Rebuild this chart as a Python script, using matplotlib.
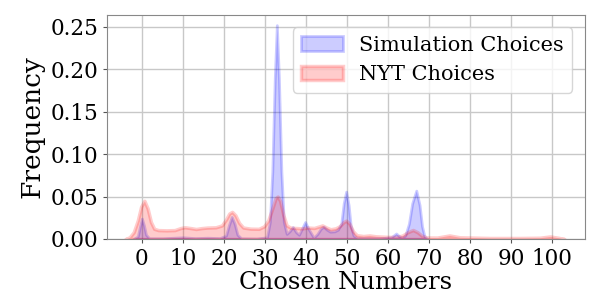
import matplotlib
matplotlib.use("Agg")
import matplotlib.pyplot as plt

# density curves (x = chosen number, y = frequency)
sim_x = [-2.0, -1.0, -0.5, 0.0, 0.5, 1.0, 1.8, 5, 10, 13, 16, 19,
         20.5, 21.2, 21.9, 22.6, 23.3, 24.2, 28, 30.5,
         31.2, 31.8, 32.4, 32.9, 33.4, 34.0, 34.6, 35.3, 36.0, 36.8,
         37.6, 38.3, 39.2, 39.8, 40.6, 41.9, 42.8, 43.6, 44.3, 45.1,
         45.9, 47.0, 47.8, 48.6, 49.2, 49.8, 50.4, 50.9, 51.6, 52.5,
         58, 60.8, 62.0, 62.8, 63.4, 64.2, 65.1, 65.9, 66.9, 67.7,
         68.3, 68.9, 69.6]
sim_y = [0.0, 0.003, 0.014, 0.024, 0.016, 0.005, 0.0008, 0.0008, 0.002,
         0.001, 0.0015, 0.001,
         0.004, 0.016, 0.026, 0.018, 0.005, 0.0008, 0.0005, 0.002,
         0.02, 0.08, 0.19, 0.252, 0.19, 0.08, 0.02, 0.006, 0.009, 0.014,
         0.008, 0.005, 0.014, 0.020, 0.012, 0.0015, 0.006, 0.012, 0.0145,
         0.011,
         0.0086, 0.009, 0.011, 0.018, 0.042, 0.0558, 0.040, 0.016, 0.004,
         0.001,
         0.0008, 0.002, 0.0065, 0.003, 0.0015, 0.004, 0.018, 0.042, 0.057,
         0.040,
         0.015, 0.003, 0.0]

nyt_x = [-4.0, -3.0, -2.0, -1.0, -0.2, 0.6, 1.4, 2.2, 3.0, 4.0, 6, 8,
         9.5, 10.5, 12, 13.2, 14.5, 16, 18, 19.5, 20.5, 21.3, 22.0, 22.8,
         23.7, 24.7, 26.5, 28.5, 29.8, 30.8, 31.8, 32.6, 33.1, 33.7, 34.5,
         35.3, 36.2, 37.4, 39.0, 40.5, 42.0, 43.0, 44.0, 45.0, 46.0, 47.2,
         48.2, 49.2, 49.8, 50.6, 51.5, 52.4, 54, 55.5, 57, 60, 62, 63.5,
         64.8, 66.1, 67.2, 68.2, 69.5, 72, 75, 77.5, 85, 92, 97, 99.5,
         101.5, 103]
nyt_y = [0.0, 0.002, 0.008, 0.022, 0.038, 0.045, 0.036, 0.020, 0.012,
         0.0105, 0.0102, 0.0105,
         0.013, 0.0138, 0.0128, 0.0118, 0.0128, 0.0135, 0.0138, 0.016,
         0.023, 0.030, 0.032, 0.028,
         0.019, 0.0135, 0.0122, 0.012, 0.015, 0.022, 0.036, 0.048, 0.050,
         0.045, 0.028,
         0.016, 0.0135, 0.013, 0.0125, 0.0135, 0.013, 0.0145, 0.016,
         0.0135, 0.0115, 0.0125,
         0.015, 0.020, 0.0216, 0.018, 0.009, 0.0045, 0.0035, 0.0042,
         0.0032, 0.0025, 0.0025, 0.004,
         0.008, 0.0106, 0.008, 0.004, 0.0018, 0.0017, 0.0042, 0.002,
         0.0012, 0.0012, 0.0015, 0.003,
         0.0015, 0.0]

x_ticks = list(range(0, 101, 10))
y_ticks = [0.0, 0.05, 0.10, 0.15, 0.20, 0.25]

plt.rcParams["font.family"] = ["DejaVu Serif"]

fig = plt.figure(figsize=(5.98, 2.99), dpi=100)
ax = fig.add_axes([0.179, 0.2007, 0.799, 0.7493])

ax.fill_between(sim_x, sim_y, color="blue", alpha=0.2, linewidth=2,
                label="Simulation Choices")
ax.fill_between(nyt_x, nyt_y, color="red", alpha=0.2, linewidth=2.5,
                label="NYT Choices")

ax.set_xlim(-8.5, 108)
ax.set_ylim(0, 0.264)
ax.set_xticks(x_ticks)
ax.set_yticks(y_ticks)
ax.set_yticklabels(["%.2f" % v for v in y_ticks])
ax.tick_params(labelsize=15.5, length=3, color="#555555")
ax.grid(True, color="#c8c8c8", linewidth=1)
ax.set_axisbelow(True)
for s in ax.spines.values():
    s.set_color("#888888")

ax.set_xlabel("Chosen Numbers", fontsize=17.5, labelpad=1)
ax.set_ylabel("Frequency", fontsize=19, labelpad=4)
ax.legend(loc="upper right", fontsize=15, borderaxespad=0.6)

plt.savefig("out.png", dpi=100)
